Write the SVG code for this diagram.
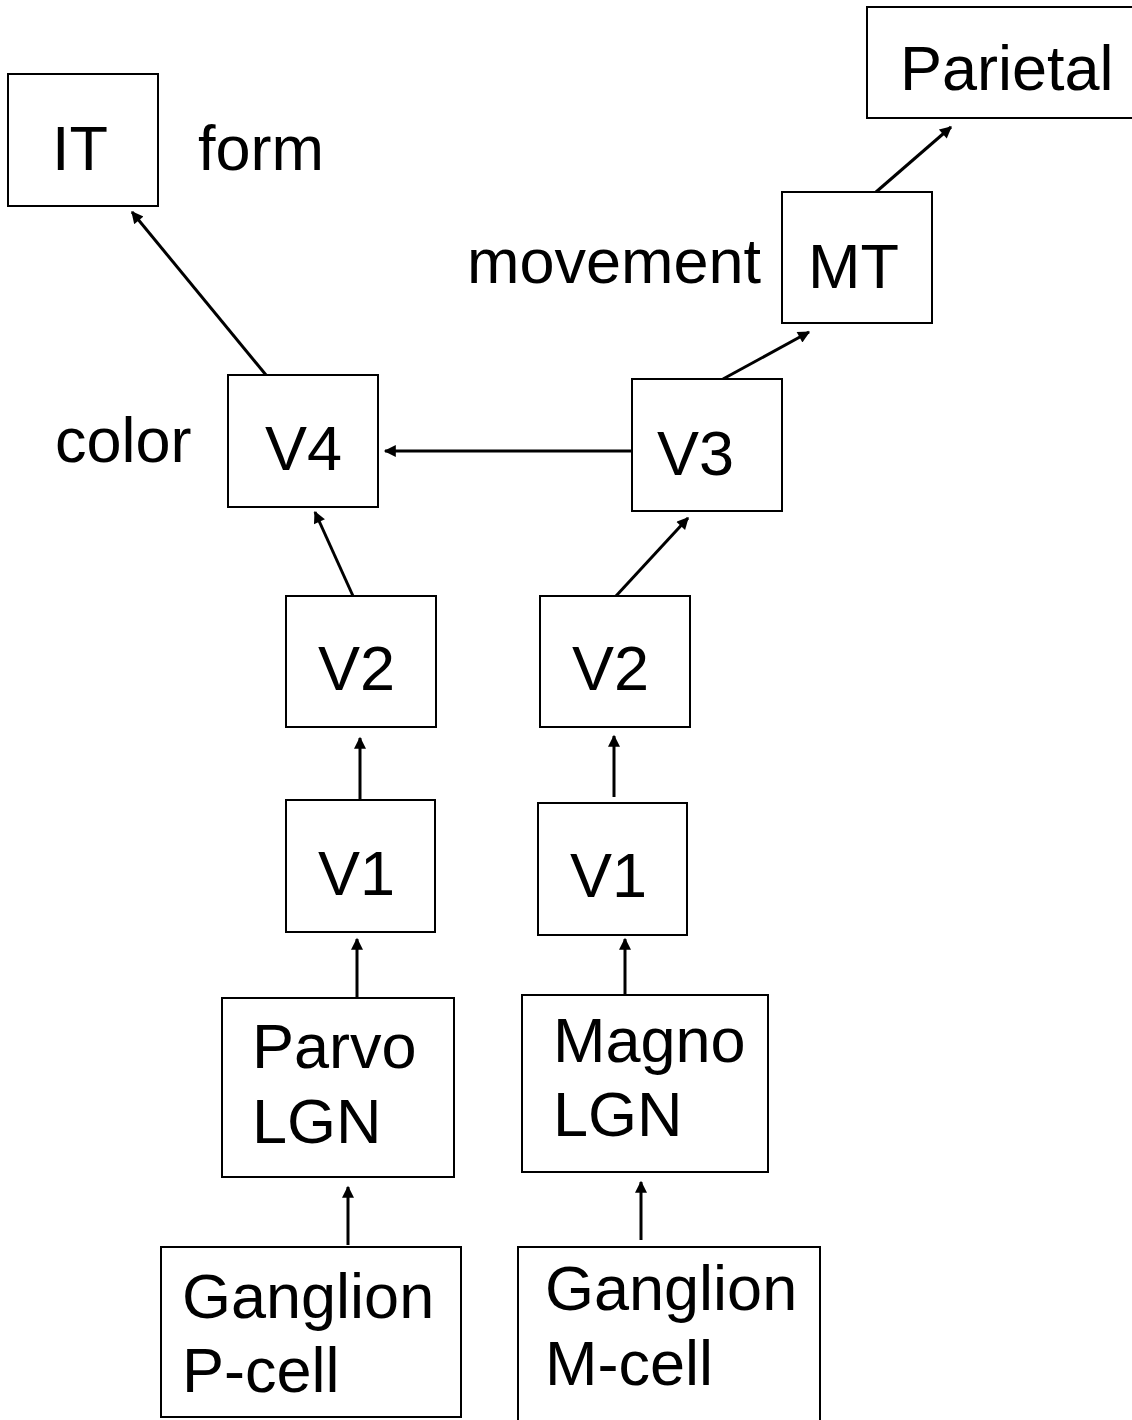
<svg xmlns="http://www.w3.org/2000/svg" width="1132" height="1420" viewBox="0 0 1132 1420">
<style>
.box{fill:#fff;stroke:#000;stroke-width:2}
.t{font-family:"Liberation Sans",Arial,sans-serif;font-size:63px;fill:#000}
.c{stroke:#000;stroke-width:3;fill:none;marker-end:url(#ah)}
</style>
<defs>
<marker id="ah" viewBox="0 0 10 10" refX="9" refY="5" markerWidth="5" markerHeight="4" orient="auto" markerUnits="strokeWidth">
<path d="M0,0 L10,5 L0,10 z" fill="#000"/>
</marker>
</defs>
<rect width="1132" height="1420" fill="#fff"/>
<g id="connectors">
<line class="c" x1="266" y1="375" x2="132" y2="212"/>
<line class="c" x1="723" y1="379" x2="809" y2="332"/>
<line class="c" x1="876" y1="192" x2="951" y2="127"/>
<line class="c" x1="632" y1="451" x2="385" y2="451"/>
<line class="c" x1="353" y1="596" x2="315" y2="512"/>
<line class="c" x1="616" y1="596" x2="688" y2="518"/>
<line class="c" x1="360" y1="800" x2="360" y2="738"/>
<line class="c" x1="614" y1="797" x2="614" y2="736"/>
<line class="c" x1="357" y1="998" x2="357" y2="939"/>
<line class="c" x1="625" y1="995" x2="625" y2="939"/>
<line class="c" x1="348" y1="1245" x2="348" y2="1187"/>
<line class="c" x1="641" y1="1240" x2="641" y2="1182"/>
</g>
<g id="IT"><rect class="box" x="8" y="74" width="150" height="132"/><text class="t" x="52" y="170">IT</text></g>
<g id="form"><text class="t" x="198" y="170">form</text></g>
<g id="Parietal"><rect class="box" x="867" y="7" width="275" height="111"/><text class="t" x="900" y="90">Parietal</text></g>
<g id="MT"><rect class="box" x="782" y="192" width="150" height="131"/><text class="t" x="808" y="288">MT</text></g>
<g id="movement"><text class="t" x="467" y="283">movement</text></g>
<g id="V4"><rect class="box" x="228" y="375" width="150" height="132"/><text class="t" x="265" y="470">V4</text></g>
<g id="color"><text class="t" x="55" y="462">color</text></g>
<g id="V3"><rect class="box" x="632" y="379" width="150" height="132"/><text class="t" x="657" y="475">V3</text></g>
<g id="V2L"><rect class="box" x="286" y="596" width="150" height="131"/><text class="t" x="318" y="690">V2</text></g>
<g id="V2R"><rect class="box" x="540" y="596" width="150" height="131"/><text class="t" x="572" y="690">V2</text></g>
<g id="V1L"><rect class="box" x="286" y="800" width="149" height="132"/><text class="t" x="318" y="895">V1</text></g>
<g id="V1R"><rect class="box" x="538" y="803" width="149" height="132"/><text class="t" x="570" y="897">V1</text></g>
<g id="ParvoLGN"><rect class="box" x="222" y="998" width="232" height="179"/><text class="t" x="252" y="1068">Parvo</text><text class="t" x="252" y="1143">LGN</text></g>
<g id="MagnoLGN"><rect class="box" x="522" y="995" width="246" height="177"/><text class="t" x="553" y="1062">Magno</text><text class="t" x="553" y="1136">LGN</text></g>
<g id="GanglionP"><rect class="box" x="161" y="1247" width="300" height="170"/><text class="t" x="182" y="1318">Ganglion</text><text class="t" x="182" y="1392">P-cell</text></g>
<g id="GanglionM"><rect class="box" x="518" y="1247" width="302" height="180"/><text class="t" x="545" y="1310">Ganglion</text><text class="t" x="545" y="1385">M-cell</text></g>
</svg>
